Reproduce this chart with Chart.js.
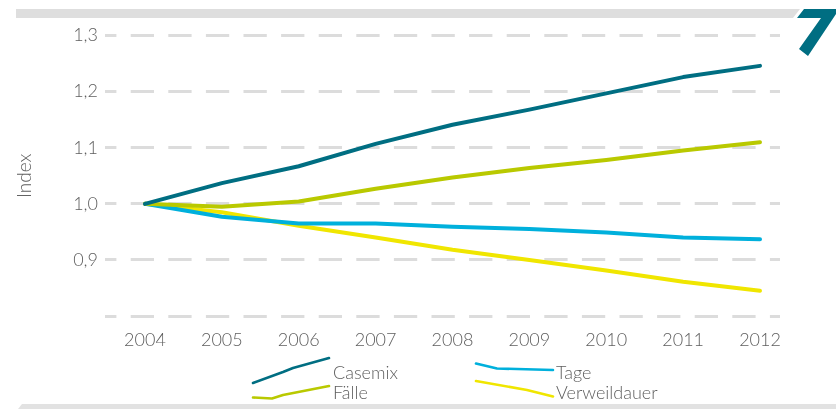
<!DOCTYPE html>
<html>
<head>
<meta charset="utf-8">
<script src="https://cdn.jsdelivr.net/npm/chart.js@4.4.1/dist/chart.umd.min.js"></script>
<style>
  html, body { margin: 0; padding: 0; background: #fff; }
  #wrap { position: relative; width: 836px; height: 409px; overflow: hidden; font-family: Lato, "Open Sans", sans-serif; }
  #chart { position: absolute; left: 0; top: 0; }
  #deco { position: absolute; left: 0; top: 0; }
  .lg { position: absolute; font-size: 18px; font-weight: 300; line-height: 20px; color: #5e5e5e; white-space: nowrap; }
</style>
</head>
<body>
<div id="wrap">
  <canvas id="chart" width="836" height="409"></canvas>
  <svg id="deco" width="836" height="409">
    <!-- Balken oben / unten -->
    <polygon points="16,9 800,9 793,18 16,18" fill="#dedede"/>
    <polygon points="804,9 836,9 836,14 808,56 799,49 821,18 797,18" fill="#006e82"/>
    <polygon points="22,404 836,404 836,409 18,409" fill="#e2e2e2"/>
    <!-- Legendensymbole -->
    <polyline points="253,383 283,372 293,368 329,358" fill="none" stroke="#006e82" stroke-width="2.6" stroke-linecap="round" stroke-linejoin="round"/>
    <polyline points="253,397.5 272,398.5 283,395 329,386" fill="none" stroke="#b9c900" stroke-width="2.6" stroke-linecap="round" stroke-linejoin="round"/>
    <polyline points="476,363.5 497,368.5 553,370" fill="none" stroke="#00b0dc" stroke-width="2.6" stroke-linecap="round" stroke-linejoin="round"/>
    <polyline points="476,381 527,390 553,396.5" fill="none" stroke="#f0e600" stroke-width="2.6" stroke-linecap="round" stroke-linejoin="round"/>
  </svg>
  <div class="lg" style="left:333px; top:362px;">Casemix</div>
  <div class="lg" style="left:333px; top:382px;">Fälle</div>
  <div class="lg" style="left:556px; top:362px;">Tage</div>
  <div class="lg" style="left:556px; top:382px;">Verweildauer</div>
</div>
<script>
var years = [2004, 2005, 2006, 2007, 2008, 2009, 2010, 2011, 2012];
var casemix = [1.000, 1.037, 1.067, 1.107, 1.141, 1.168, 1.197, 1.226, 1.246];
var faelle = [1.000, 0.995, 1.004, 1.027, 1.047, 1.064, 1.078, 1.095, 1.110];
var tage = [1.000, 0.977, 0.965, 0.965, 0.959, 0.955, 0.949, 0.940, 0.937];
var verweildauer = [1.000, 0.985, 0.961, 0.940, 0.918, 0.900, 0.881, 0.861, 0.845];
var yTicks = [0.8, 0.9, 1.0, 1.1, 1.2, 1.3];

function points(values) {
    return values.map(function (v, i) {
        return {x: years[i], y: v};
    });
}

function line(label, values, color) {
    return {
        label: label,
        data: points(values),
        borderColor: color,
        borderWidth: 4,
        borderCapStyle: 'round',
        borderJoinStyle: 'round',
        pointRadius: 0,
        tension: 0
    };
}

var tickFont = {family: 'Lato, "Open Sans", sans-serif', size: 18, weight: '300'};

var config = {
    type: 'line',
    data: {
        datasets: [
            line('Casemix', casemix, '#006e82'),
            line('Fälle', faelle, '#b9c900'),
            line('Tage', tage, '#00b0dc'),
            line('Verweildauer', verweildauer, '#f0e600')
        ]
    },
    options: {
        responsive: false,
        animation: false,
        layout: {
            padding: {top: 35.6, right: 56, bottom: 0, left: 0}
        },
        plugins: {
            legend: {display: false},
            tooltip: {enabled: false}
        },
        scales: {
            x: {
                type: 'linear',
                min: 2003.48,
                max: 2012.26,
                grid: {display: false},
                border: {display: false},
                ticks: {
                    color: '#5e5e5e',
                    font: tickFont,
                    padding: 5,
                    callback: function (v) { return String(v); }
                },
                afterBuildTicks: function (scale) {
                    scale.ticks = years.map(function (y) { return {value: y}; });
                },
                afterFit: function (scale) {
                    scale.height = 93;
                }
            },
            y: {
                min: 0.8,
                max: 1.3,
                // in v4 kommt das Strichmuster der Gitterlinien aus border.dash
                border: {display: false, dash: [23.3, 14.3], dashOffset: 11.9},
                grid: {
                    color: '#dcdcdc',
                    lineWidth: 3,
                    drawTicks: false
                },
                ticks: {
                    color: '#5e5e5e',
                    font: tickFont,
                    padding: 7,
                    callback: function (v) {
                        if (Math.abs(v - 0.8) < 1e-6) return '';
                        return v.toFixed(1).replace('.', ',');
                    }
                },
                afterBuildTicks: function (scale) {
                    scale.ticks = yTicks.map(function (v) { return {value: v}; });
                },
                title: {
                    display: true,
                    text: 'Index',
                    color: '#5e5e5e',
                    font: {family: 'Lato, "Open Sans", sans-serif', size: 19, weight: '300'},
                    padding: {top: 13.6, bottom: 0}
                },
                afterFit: function (scale) {
                    scale.width = 105;
                }
            }
        }
    }
};

var ctx = document.getElementById('chart').getContext('2d');
var myChart = new Chart(ctx, config);
</script>
</body>
</html>
